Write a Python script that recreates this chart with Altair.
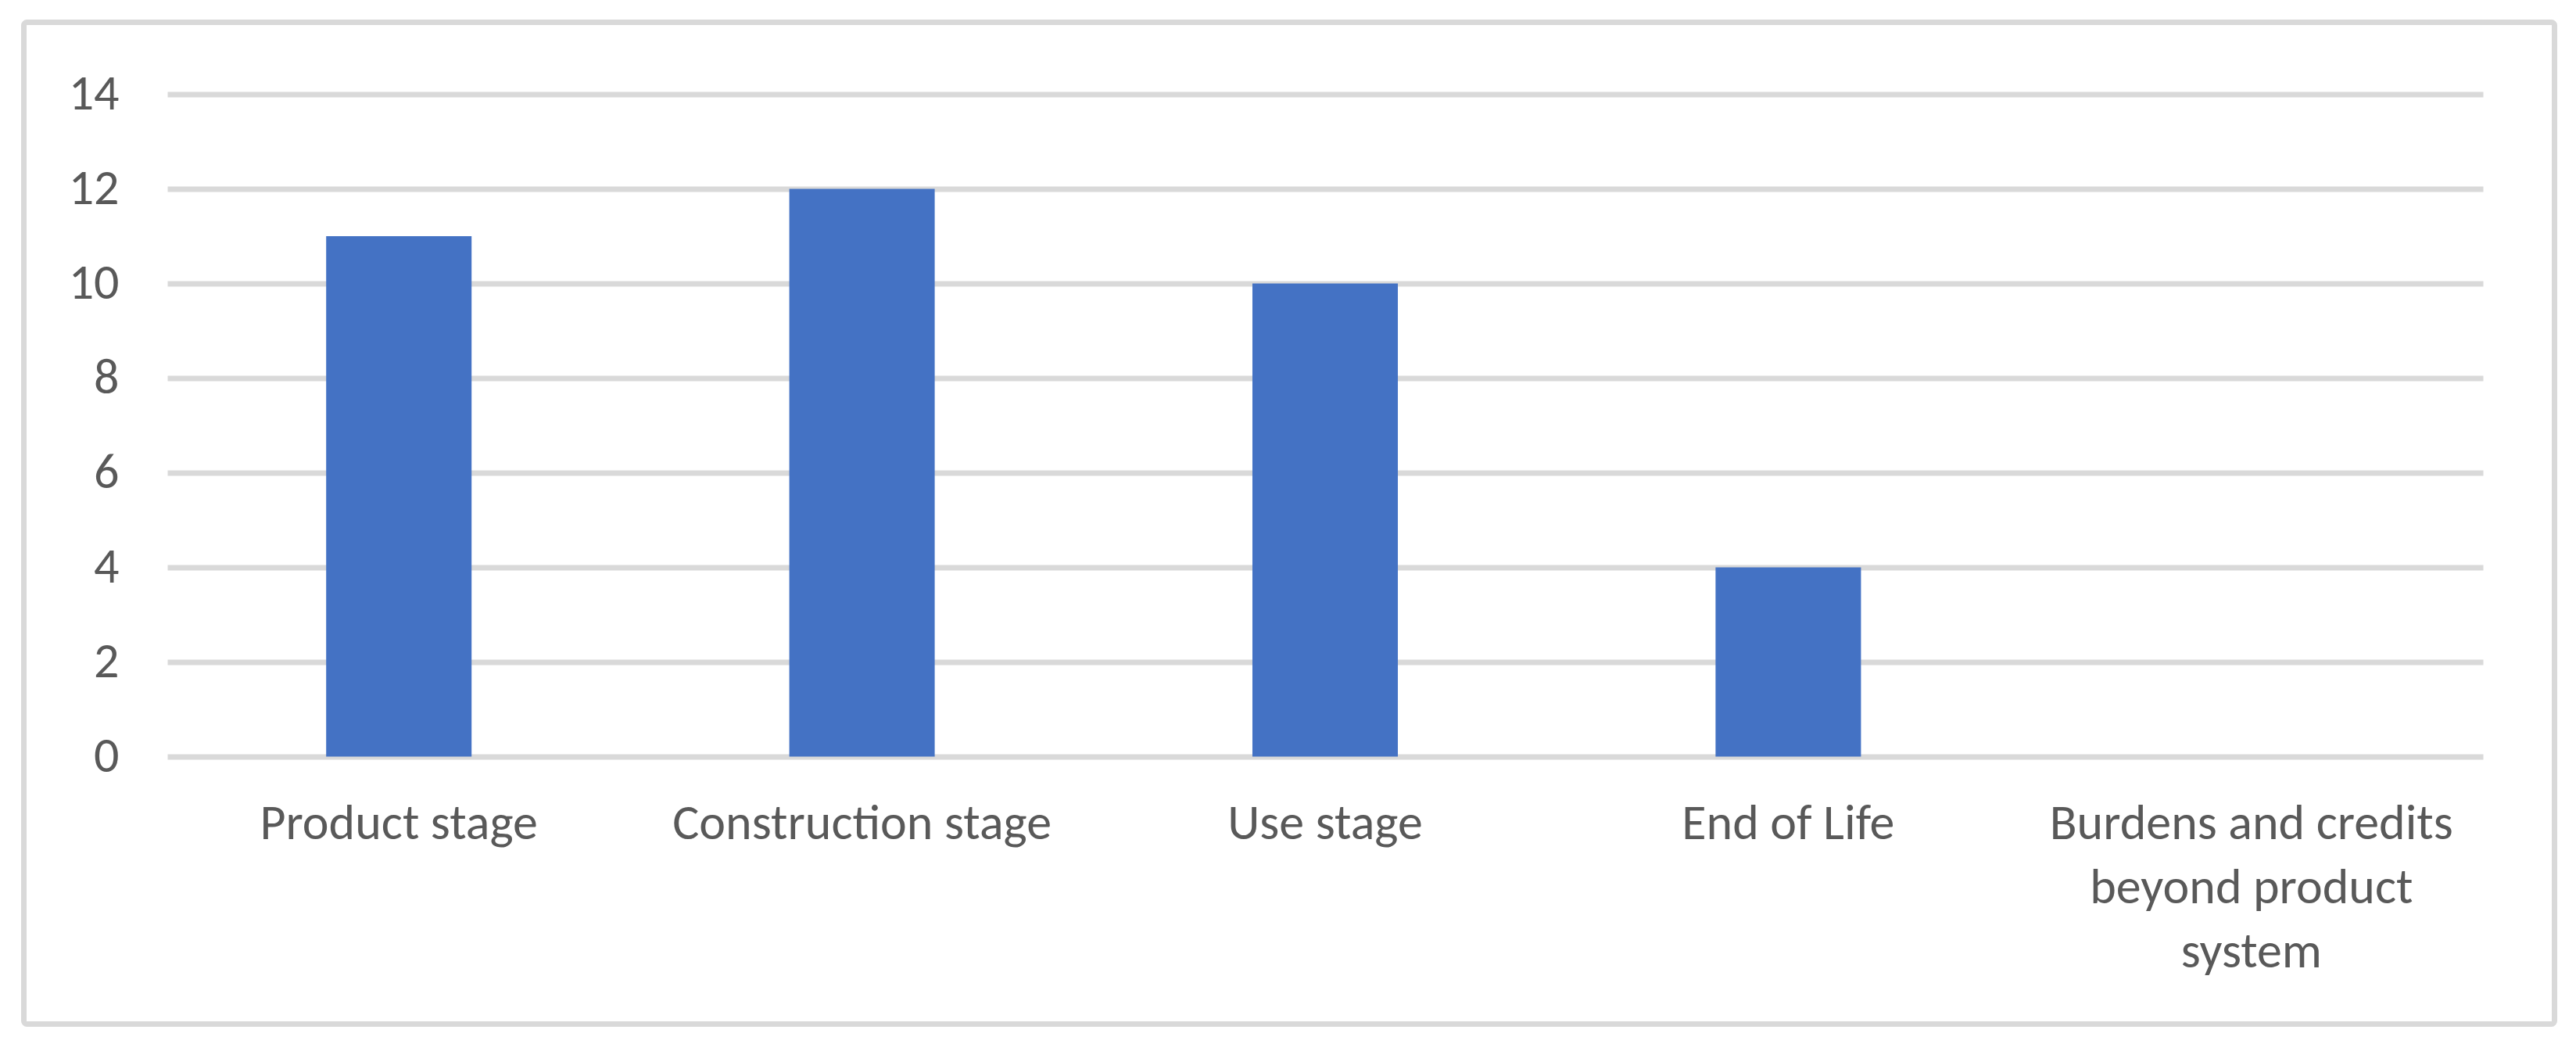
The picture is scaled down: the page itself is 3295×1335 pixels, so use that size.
import json
import altair as alt
import pandas as pd

# ---- data ----
categories = [
    "Product stage",
    "Construction stage",
    "Use stage",
    "End of Life",
    "Burdens and credits beyond product system",
]
values = [11, 12, 10, 4, 0]
wrapped_last_label = ["Burdens and credits", "beyond product", "system"]
y_tick_values = [0, 2, 4, 6, 8, 10, 12, 14]

FONT = "Carlito, Calibri, Lato, sans-serif"
TEXT = "#595959"
GRID = "#d9d9d9"
BAR = "#4472C4"

df = pd.DataFrame({"stage": categories, "value": values})

label_expr = "datum.label == %s ? %s : datum.label" % (
    json.dumps(categories[-1]),
    json.dumps(wrapped_last_label),
)

bars = alt.Chart(df).mark_bar(color=BAR).encode(
    x=alt.X(
        "stage:N",
        sort=categories,
        scale=alt.Scale(paddingInner=0.686, paddingOuter=0.343),
        axis=alt.Axis(
            title=None,
            labelAngle=0,
            ticks=False,
            domain=False,
            grid=False,
            labelFont=FONT,
            labelFontSize=64,
            labelColor=TEXT,
            labelPadding=105,
            labelBaseline="alphabetic",
            labelLineHeight=82,
            labelLimit=1000,
            labelExpr=label_expr,
        ),
    ),
    y=alt.Y(
        "value:Q",
        scale=alt.Scale(domain=[0, 14], nice=False),
        axis=alt.Axis(
            title=None,
            values=y_tick_values,
            grid=True,
            gridColor=GRID,
            gridWidth=7,
            domain=False,
            ticks=False,
            labelFont=FONT,
            labelFontSize=64,
            labelColor=TEXT,
            labelPadding=62,
        ),
    ),
)

frame = alt.Chart(alt.Data(values=[{}])).mark_rect(
    filled=False, stroke=GRID, strokeWidth=7, cornerRadius=4
).encode(
    x=alt.value(-183.5),
    x2=alt.value(3053.5),
    y=alt.value(-92),
    y2=alt.value(1189),
)

chart = alt.layer(bars, frame).properties(
    width=2962,
    height=847,
    padding={"left": 206, "top": 112.5, "right": 99, "bottom": 352.5},
    autosize=alt.AutoSizeParams(type="none"),
    background="white",
).configure_view(strokeWidth=0)

chart.save("out.html", embed_options={"renderer": "svg", "actions": False})
